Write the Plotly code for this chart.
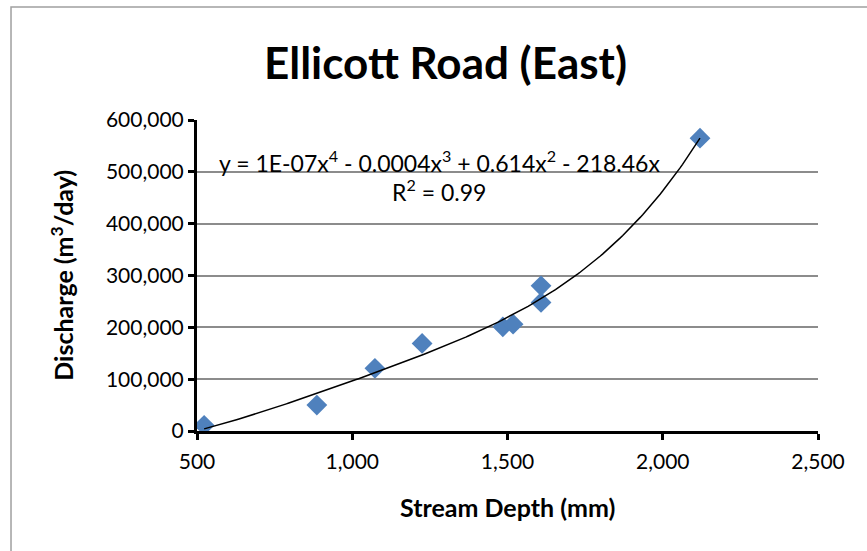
import numpy as np
import plotly.graph_objects as go

# Stream gauge readings: depth (mm) vs discharge (m3/day)
depth_mm = [523, 886, 1073, 1225, 1485, 1518, 1608, 1608, 2120]
discharge = [11000, 50000, 121000, 169000, 201000, 206000, 248000, 280000, 565000]

x_ticks = [500, 1000, 1500, 2000, 2500]
y_ticks = [0, 100000, 200000, 300000, 400000, 500000, 600000]

equation_text = "y = 1E-07x<sup>4</sup> - 0.0004x<sup>3</sup> + 0.614x<sup>2</sup> - 218.46x"
r2_text = "R<sup>2</sup> = 0.99"

# 4th-order polynomial trend through the origin (no intercept term)
xd = np.array(depth_mm, dtype=float)
yd = np.array(discharge, dtype=float)
A = np.vstack([xd**4, xd**3, xd**2, xd]).T
coef, *_ = np.linalg.lstsq(A, yd, rcond=None)
xs = np.linspace(xd.min(), xd.max(), 200)
ys = coef[0]*xs**4 + coef[1]*xs**3 + coef[2]*xs**2 + coef[3]*xs

FONT = "Lato"
TICK_SIZE = 21

fig = go.Figure()
fig.add_trace(go.Scatter(
    x=depth_mm, y=discharge, mode="markers",
    marker=dict(symbol="diamond", size=16, color="#4F81BD", line=dict(width=0)),
    showlegend=False, hoverinfo="x+y",
))
fig.add_trace(go.Scatter(
    x=xs, y=ys, mode="lines", line=dict(color="black", width=1.5),
    showlegend=False, hoverinfo="skip",
))

fig.update_layout(
    width=867, height=551,
    margin=dict(l=197, r=49, t=120, b=120),
    paper_bgcolor="white", plot_bgcolor="white",
    font=dict(family=FONT, color="black"),
    xaxis=dict(
        range=[500, 2500], tickvals=x_ticks,
        ticktext=[f"{v:,}" for v in x_ticks],
        showgrid=False, zeroline=False,
        showline=True, linecolor="black", linewidth=3,
        ticks="outside", ticklen=6, tickwidth=3, tickcolor="black",
        tickfont=dict(size=TICK_SIZE, family=FONT), ticklabelstandoff=4,
    ),
    yaxis=dict(
        range=[0, 600000], tickvals=y_ticks,
        ticktext=[f"{v:,}" for v in y_ticks],
        showgrid=True, gridcolor="#8c8c8c", gridwidth=1.5,
        zeroline=False,
        showline=True, linecolor="black", linewidth=3,
        ticks="outside", ticklen=6, tickwidth=3, tickcolor="black",
        tickfont=dict(size=TICK_SIZE, family=FONT),
    ),
    annotations=[
        dict(text="<b>Ellicott Road (East)</b>", xref="paper", yref="paper",
             x=0.40, y=1.187, xanchor="center", yanchor="middle",
             showarrow=False, font=dict(size=44, family=FONT)),
        dict(text="<b>Stream Depth (mm)</b>", xref="paper", yref="paper",
             x=0.5, y=-0.244, xanchor="center", yanchor="middle",
             showarrow=False, font=dict(size=25, family=FONT)),
        dict(text="<b>Discharge (m<sup>3</sup>/day)</b>", xref="paper", yref="paper",
             x=-0.217, y=0.5, xanchor="center", yanchor="middle", textangle=-90,
             showarrow=False, font=dict(size=25, family=FONT)),
        dict(text=equation_text, xref="paper", yref="paper",
             x=0.39, y=0.865, xanchor="center", yanchor="middle",
             showarrow=False, font=dict(size=23, family=FONT)),
        dict(text=r2_text, xref="paper", yref="paper",
             x=0.39, y=0.772, xanchor="center", yanchor="middle",
             showarrow=False, font=dict(size=23, family=FONT)),
    ],
    shapes=[
        dict(type="rect", xref="paper", yref="paper",
             x0=-0.2995, x1=1.09, y0=-0.42, y1=1.363,
             line=dict(color="#a0a0a0", width=1.5), layer="below"),
    ],
)

fig.write_html("out.html")
